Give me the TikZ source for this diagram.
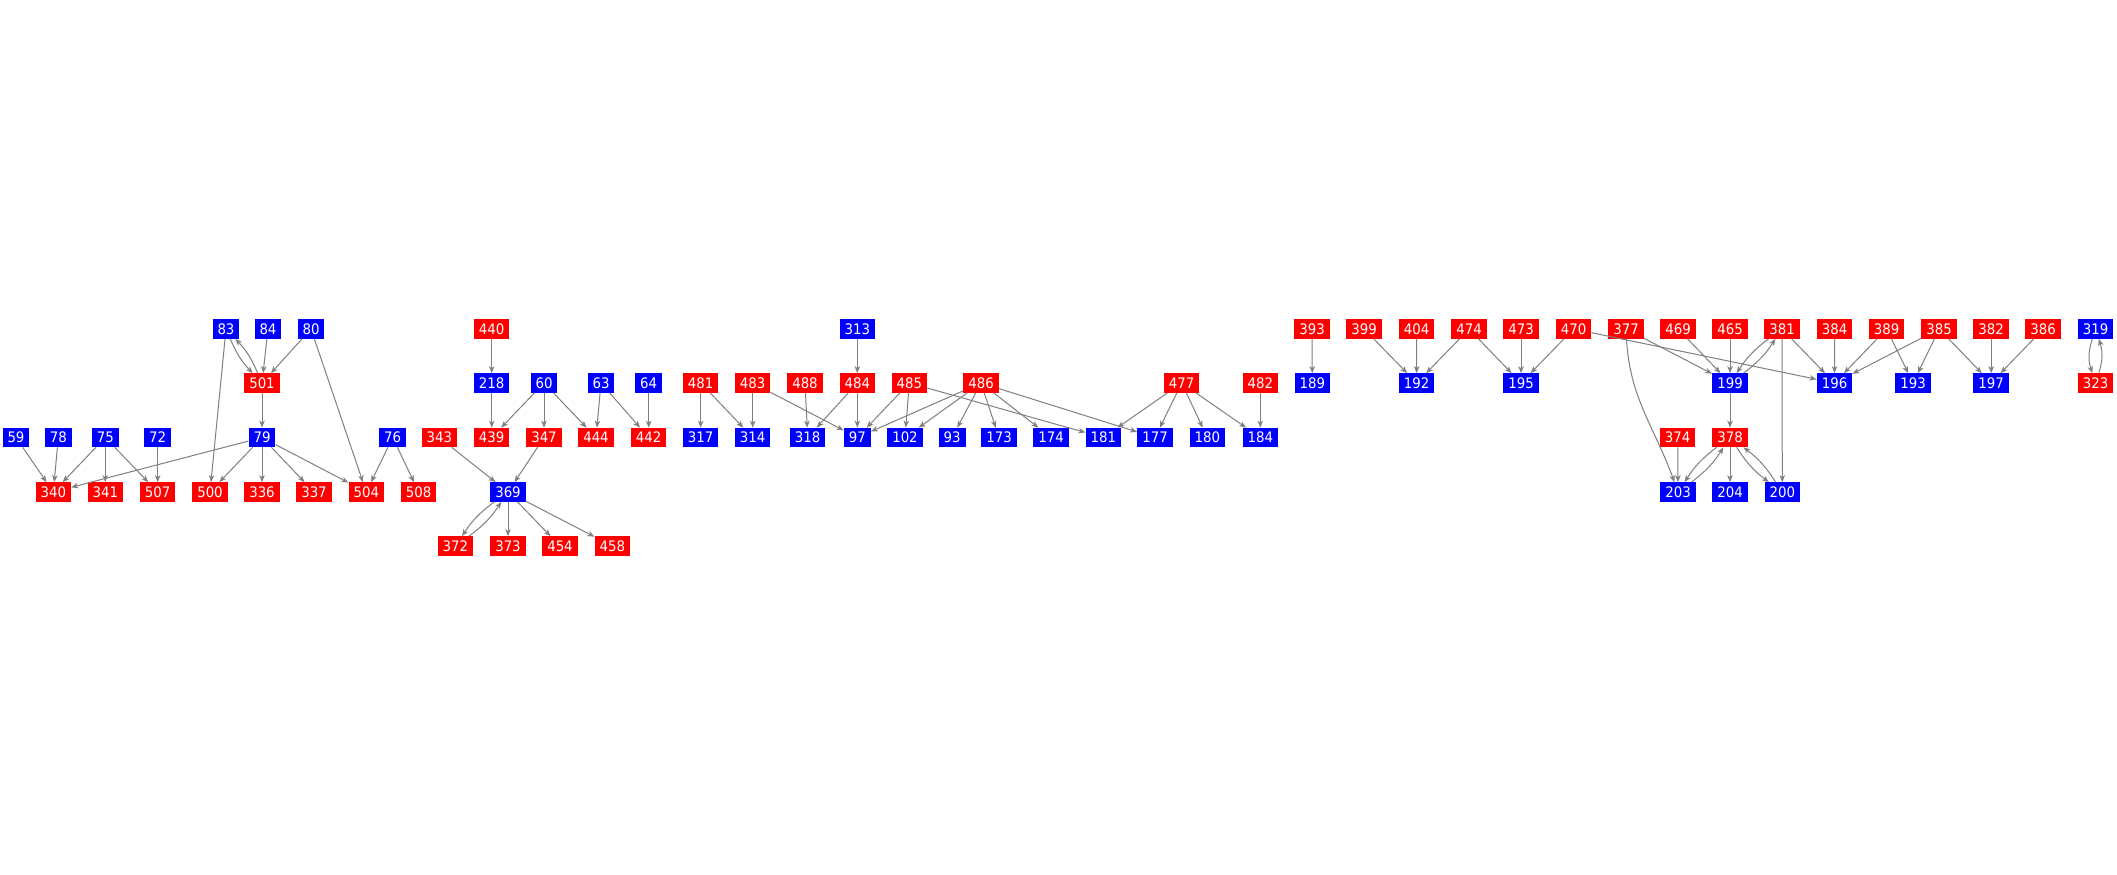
\documentclass[tikz,border=0pt]{standalone}
\usepackage{fontspec}
\setmainfont{DejaVu Sans}[FakeStretch=0.92]
\usetikzlibrary{arrows.meta}

\begin{document}
\begin{tikzpicture}[
  x=1pt, y=1pt,
  font=\fontsize{14.5}{16}\selectfont,
  vtx/.style={inner xsep=5pt, inner ysep=0pt, minimum height=19.3pt, text=white},
  rvtx/.style={vtx, fill=red},
  bvtx/.style={vtx, fill=blue},
  garr/.style={-{Stealth[length=7pt,width=5.5pt,inset=2pt]}, line width=1pt, draw=gray}
]
\path[use as bounding box, fill=white] (0,0) rectangle (2117,-875);
% red vertices
\foreach \n/\x/\y in {501/262/383, 340/53.3/492, 341/105.3/492, 507/157.7/492, 500/210/492,
    336/262/492, 337/314/492, 504/366.3/492, 508/418.7/492, 440/491.7/329, 343/439.3/437.5,
    439/491.7/437.5, 347/544/437.5, 444/596/437.5, 442/648.7/437.5, 372/455.3/546, 373/508/546,
    454/560/546, 458/612.3/546, 481/700.7/383, 483/752.7/383, 488/805/383, 484/857.3/383,
    485/909.3/383, 486/981/383, 477/1181.7/383, 482/1260.3/383, 393/1312/329, 399/1364/329,
    404/1416.5/329, 474/1469/329, 473/1521/329, 470/1573.6/329, 377/1626/329, 469/1678/329,
    465/1730/329, 381/1782/329, 384/1834.6/329, 389/1886.6/329, 385/1939.2/329, 382/1991.2/329,
    386/2043.1/329, 323/2095.5/383, 374/1677.7/437.5, 378/1730/437.5}{
  \node[rvtx] (n\n) at (\x,-\y) {\n};}
% blue vertices
\foreach \n/\x/\y in {83/226/329, 84/268/329, 80/311/329, 59/16/437.5, 78/58.3/437.5,
    75/105.3/437.5, 72/157.7/437.5, 79/262/437.5, 76/392.7/437.5, 218/491.7/383, 60/544/383,
    63/601/383, 64/648.7/383, 313/857.3/329, 369/508/492, 317/700.7/437.5, 314/752.7/437.5,
    318/807.7/437.5, 97/857.3/437.5, 102/905/437.5, 93/952/437.5, 173/999/437.5, 174/1051/437.5,
    181/1103.3/437.5, 177/1155/437.5, 180/1207.3/437.5, 184/1260.3/437.5, 189/1312.3/383,
    192/1416.7/383, 195/1521/383, 199/1730/383, 196/1834.5/383, 193/1913/383, 197/1991.2/383,
    319/2095.5/329, 203/1678/492, 204/1730/492, 200/1782.3/492}{
  \node[bvtx] (n\n) at (\x,-\y) {\n};}
% edges
\foreach \a/\b in {84/501, 80/501, 80/504, 83/500, 501/79, 79/340, 79/500, 79/336, 79/337,
    79/504, 59/340, 78/340, 75/340, 75/341, 75/507, 72/507, 76/504, 76/508,
    440/218, 218/439, 60/439, 60/347, 60/444, 63/444, 63/442, 64/442, 343/369, 347/369,
    369/373, 369/454, 369/458, 313/484, 481/317, 481/314, 483/314, 483/97, 488/318, 484/318,
    484/97, 485/97, 485/102, 485/181, 486/97, 486/102, 486/93, 486/173, 486/174, 486/177,
    477/181, 477/177, 477/180, 477/184, 482/184, 393/189, 399/192, 404/192, 474/192, 474/195,
    473/195, 470/195, 470/196, 377/199, 469/199, 465/199, 381/196, 381/200, 384/196, 389/196,
    389/193, 385/196, 385/193, 385/197, 382/197, 386/197, 199/378, 374/203, 378/204}{
  \draw[garr] (n\a) -- (n\b);}
% edges both ways
\foreach \a/\b in {83/501, 501/83, 369/372, 372/369, 199/381, 381/199, 378/203, 203/378,
    378/200, 200/378}{
  \draw[garr] (n\a) to[bend right=10] (n\b);}
\draw[garr] (n319) to[bend right=18] (n323);
\draw[garr] (n323) to[bend right=18] (n319);
\draw[garr] (n377) to[out=-87, in=110] (n203);
\end{tikzpicture}
\end{document}
